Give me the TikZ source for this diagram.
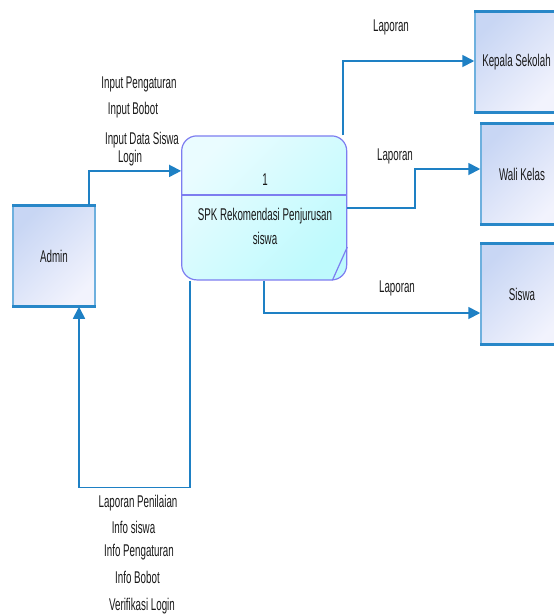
\documentclass[tikz,border=0pt]{standalone}
\usepackage{fontspec}
\setmainfont{Liberation Sans}[FakeStretch=0.575]
\usetikzlibrary{arrows.meta,calc}
\definecolor{flowc}{RGB}{30,128,196}
\definecolor{entside}{RGB}{110,176,222}
\definecolor{enttop}{RGB}{40,135,200}
\definecolor{entA}{RGB}{200,214,244}
\definecolor{entB}{RGB}{242,243,253}
\definecolor{procA}{RGB}{234,252,255}
\definecolor{procB}{RGB}{190,250,253}
\definecolor{procline}{RGB}{125,125,240}
\definecolor{txt}{RGB}{25,25,25}
\begin{document}
\begin{tikzpicture}[x=1pt,y=-1pt,
  every node/.style={font=\fontsize{17}{20}\selectfont, text=txt, inner sep=0pt},
  entity/.style={shading=axis, left color=entA, right color=entB, shading angle=45,
    draw=entside, line width=1.5pt, minimum height=100pt},
  procbox/.style={shading=axis, left color=procA, right color=procB, shading angle=45,
    draw=procline, line width=1.2pt, rounded corners=15pt, minimum width=165pt, minimum height=144pt},
  flow/.style={draw=flowc, line width=1.8pt, -{Triangle[length=12pt,width=12pt]}},
  edgeline/.style={draw=enttop, line width=2.6pt},
  lbl/.style={anchor=center}]
\useasboundingbox (0,0) rectangle (554,614);

% entities
\node[entity, minimum width=82pt] (admin) at (54,256) {Admin};
\node[entity, minimum width=83pt] (kepala) at (516.5,62) {Kepala Sekolah};
\node[entity, minimum width=82pt] (wali) at (522,174) {Wali Kelas};
\node[entity, minimum width=82pt] (siswa) at (522,294) {Siswa};
\foreach \n in {admin,kepala,wali,siswa}{
  \draw[edgeline] (\n.north west) -- (\n.north east);
  \draw[edgeline] (\n.south west) -- (\n.south east);
}

% process
\node[procbox] (proc) at (264.2,207.9) {};
\draw[procline, line width=1.2pt] (proc.west |- 0,195) -- (proc.east |- 0,195);
\draw[procline, line width=1.2pt] (proc.east |- 0,247) -- ([xshift=-15pt]proc.south east);
\node (pnum) at (265,180) {1};
\node (pname1) at (265,216) {SPK Rekomendasi Penjurusan};
\node (pname2) at (265,238) {siswa};

% flows
\draw[flow] ([xshift=35pt]admin.north) |- ([yshift=37pt]proc.west);
\draw[flow] ([xshift=79pt]proc.north) |- ([yshift=1pt]kepala.west);
\draw[flow] (proc.east) -- ++(68,0) |- ([yshift=5pt]wali.west);
\draw[flow] (proc.south) |- ([yshift=-19pt]siswa.west);
\draw[flow] ([xshift=-74pt]proc.south) -- ++(0,207) -| ([xshift=25pt]admin.south);

% labels
\node[lbl] (l1) at (139,84) {Input Pengaturan};
\node[lbl] (l2) at (133,110) {Input Bobot};
\node[lbl] (l3) at (142,140) {Input Data Siswa};
\node[lbl] (l4) at (130,158) {Login};
\node[lbl] (r1) at (391,27) {Laporan};
\node[lbl] (r2) at (395,156) {Laporan};
\node[lbl] (r3) at (397,288) {Laporan};
\node[lbl] (b1) at (138,503) {Laporan Penilaian};
\node[lbl] (b2) at (133.5,527) {Info siswa};
\node[lbl] (b3) at (139,552) {Info Pengaturan};
\node[lbl] (b4) at (137.5,577) {Info Bobot};
\node[lbl] (b5) at (142,606) {Verifikasi Login};
\end{tikzpicture}
\end{document}
